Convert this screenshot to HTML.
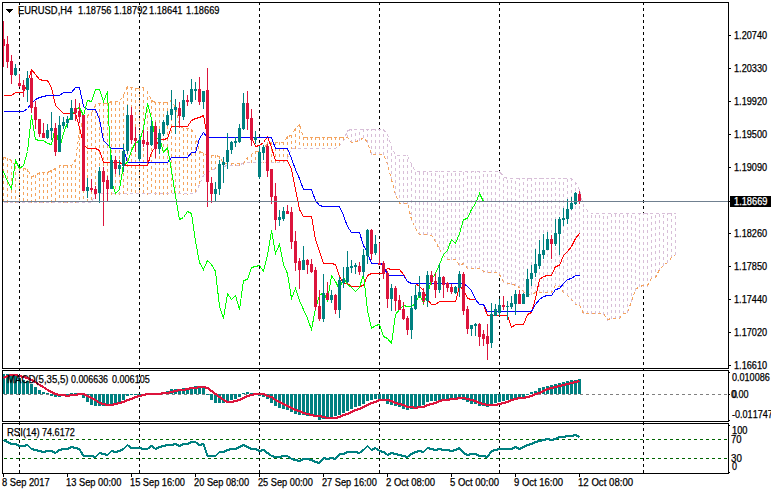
<!DOCTYPE html>
<html><head><meta charset="utf-8"><title>EURUSD,H4</title>
<style>
html,body{margin:0;padding:0;background:#fff;}
#c{position:relative;width:771px;height:494px;overflow:hidden;background:#fff;font-family:"Liberation Sans",sans-serif;}
#c svg{position:absolute;left:0;top:0;}
.t{position:absolute;font-size:10.0px;line-height:15px;height:15px;white-space:pre;font-kerning:none;transform-origin:0 0;-webkit-text-stroke:0.25px currentColor;}
</style></head><body>
<div id="c">
<svg width="771" height="494" viewBox="0 0 771 494" shape-rendering="crispEdges">
<rect x="0" y="0" width="771" height="494" fill="#fff"/>
<line x1="19.5" y1="2" x2="19.5" y2="474" stroke="#000" stroke-dasharray="3 3" stroke-dashoffset="0"/>
<line x1="139.5" y1="2" x2="139.5" y2="474" stroke="#000" stroke-dasharray="3 3" stroke-dashoffset="0"/>
<line x1="259.5" y1="2" x2="259.5" y2="474" stroke="#000" stroke-dasharray="3 3" stroke-dashoffset="0"/>
<line x1="379.5" y1="2" x2="379.5" y2="474" stroke="#000" stroke-dasharray="3 3" stroke-dashoffset="0"/>
<line x1="499.5" y1="2" x2="499.5" y2="474" stroke="#000" stroke-dasharray="3 3" stroke-dashoffset="0"/>
<line x1="643.5" y1="2" x2="643.5" y2="474" stroke="#000" stroke-dasharray="3 3" stroke-dashoffset="0"/>
<line x1="3.5" y1="157" x2="3.5" y2="203" stroke="#f4a460" stroke-dasharray="3 3" stroke-dashoffset="0"/>
<line x1="7.5" y1="158" x2="7.5" y2="203" stroke="#f4a460" stroke-dasharray="3 3" stroke-dashoffset="0"/>
<line x1="11.5" y1="160" x2="11.5" y2="203" stroke="#f4a460" stroke-dasharray="3 3" stroke-dashoffset="0"/>
<line x1="15.5" y1="166" x2="15.5" y2="203" stroke="#f4a460" stroke-dasharray="3 3" stroke-dashoffset="0"/>
<line x1="19.5" y1="168" x2="19.5" y2="203" stroke="#f4a460" stroke-dasharray="3 3" stroke-dashoffset="0"/>
<line x1="23.5" y1="168" x2="23.5" y2="203" stroke="#f4a460" stroke-dasharray="3 3" stroke-dashoffset="0"/>
<line x1="27.5" y1="169" x2="27.5" y2="203" stroke="#f4a460" stroke-dasharray="3 3" stroke-dashoffset="0"/>
<line x1="31.5" y1="176" x2="31.5" y2="203" stroke="#f4a460" stroke-dasharray="3 3" stroke-dashoffset="0"/>
<line x1="35.5" y1="175" x2="35.5" y2="203" stroke="#f4a460" stroke-dasharray="3 3" stroke-dashoffset="0"/>
<line x1="39.5" y1="172" x2="39.5" y2="203" stroke="#f4a460" stroke-dasharray="3 3" stroke-dashoffset="0"/>
<line x1="43.5" y1="172" x2="43.5" y2="203" stroke="#f4a460" stroke-dasharray="3 3" stroke-dashoffset="0"/>
<line x1="47.5" y1="172" x2="47.5" y2="203" stroke="#f4a460" stroke-dasharray="3 3" stroke-dashoffset="0"/>
<line x1="51.5" y1="170" x2="51.5" y2="203" stroke="#f4a460" stroke-dasharray="3 3" stroke-dashoffset="0"/>
<line x1="55.5" y1="168" x2="55.5" y2="203" stroke="#f4a460" stroke-dasharray="3 3" stroke-dashoffset="0"/>
<line x1="59.5" y1="165" x2="59.5" y2="203" stroke="#f4a460" stroke-dasharray="3 3" stroke-dashoffset="0"/>
<line x1="63.5" y1="165" x2="63.5" y2="203" stroke="#f4a460" stroke-dasharray="3 3" stroke-dashoffset="0"/>
<line x1="67.5" y1="165" x2="67.5" y2="203" stroke="#f4a460" stroke-dasharray="3 3" stroke-dashoffset="0"/>
<line x1="71.5" y1="165" x2="71.5" y2="203" stroke="#f4a460" stroke-dasharray="3 3" stroke-dashoffset="0"/>
<line x1="75.5" y1="159" x2="75.5" y2="203" stroke="#f4a460" stroke-dasharray="3 3" stroke-dashoffset="0"/>
<line x1="79.5" y1="131" x2="79.5" y2="203" stroke="#f4a460" stroke-dasharray="3 3" stroke-dashoffset="0"/>
<line x1="83.5" y1="118" x2="83.5" y2="203" stroke="#f4a460" stroke-dasharray="3 3" stroke-dashoffset="0"/>
<line x1="87.5" y1="115" x2="87.5" y2="203" stroke="#f4a460" stroke-dasharray="3 3" stroke-dashoffset="0"/>
<line x1="91.5" y1="113" x2="91.5" y2="203" stroke="#f4a460" stroke-dasharray="3 3" stroke-dashoffset="0"/>
<line x1="95.5" y1="104" x2="95.5" y2="195" stroke="#f4a460" stroke-dasharray="3 3" stroke-dashoffset="0"/>
<line x1="99.5" y1="103" x2="99.5" y2="195" stroke="#f4a460" stroke-dasharray="3 3" stroke-dashoffset="0"/>
<line x1="103.5" y1="103" x2="103.5" y2="195" stroke="#f4a460" stroke-dasharray="3 3" stroke-dashoffset="0"/>
<line x1="107.5" y1="103" x2="107.5" y2="195" stroke="#f4a460" stroke-dasharray="3 3" stroke-dashoffset="0"/>
<line x1="111.5" y1="102" x2="111.5" y2="195" stroke="#f4a460" stroke-dasharray="3 3" stroke-dashoffset="0"/>
<line x1="115.5" y1="102" x2="115.5" y2="195" stroke="#f4a460" stroke-dasharray="3 3" stroke-dashoffset="0"/>
<line x1="119.5" y1="102" x2="119.5" y2="195" stroke="#f4a460" stroke-dasharray="3 3" stroke-dashoffset="0"/>
<line x1="123.5" y1="95" x2="123.5" y2="195" stroke="#f4a460" stroke-dasharray="3 3" stroke-dashoffset="0"/>
<line x1="127.5" y1="86" x2="127.5" y2="195" stroke="#f4a460" stroke-dasharray="3 3" stroke-dashoffset="0"/>
<line x1="131.5" y1="87" x2="131.5" y2="195" stroke="#f4a460" stroke-dasharray="3 3" stroke-dashoffset="0"/>
<line x1="135.5" y1="88" x2="135.5" y2="195" stroke="#f4a460" stroke-dasharray="3 3" stroke-dashoffset="0"/>
<line x1="139.5" y1="88" x2="139.5" y2="195" stroke="#f4a460" stroke-dasharray="3 3" stroke-dashoffset="0"/>
<line x1="143.5" y1="88" x2="143.5" y2="195" stroke="#f4a460" stroke-dasharray="3 3" stroke-dashoffset="0"/>
<line x1="147.5" y1="91" x2="147.5" y2="195" stroke="#f4a460" stroke-dasharray="3 3" stroke-dashoffset="0"/>
<line x1="151.5" y1="100" x2="151.5" y2="195" stroke="#f4a460" stroke-dasharray="3 3" stroke-dashoffset="0"/>
<line x1="155.5" y1="102" x2="155.5" y2="195" stroke="#f4a460" stroke-dasharray="3 3" stroke-dashoffset="0"/>
<line x1="159.5" y1="102" x2="159.5" y2="195" stroke="#f4a460" stroke-dasharray="3 3" stroke-dashoffset="0"/>
<line x1="163.5" y1="102" x2="163.5" y2="195" stroke="#f4a460" stroke-dasharray="3 3" stroke-dashoffset="0"/>
<line x1="167.5" y1="102" x2="167.5" y2="195" stroke="#f4a460" stroke-dasharray="3 3" stroke-dashoffset="0"/>
<line x1="171.5" y1="100" x2="171.5" y2="195" stroke="#f4a460" stroke-dasharray="3 3" stroke-dashoffset="0"/>
<line x1="175.5" y1="107" x2="175.5" y2="195" stroke="#f4a460" stroke-dasharray="3 3" stroke-dashoffset="0"/>
<line x1="179.5" y1="125" x2="179.5" y2="195" stroke="#f4a460" stroke-dasharray="3 3" stroke-dashoffset="0"/>
<line x1="183.5" y1="128" x2="183.5" y2="195" stroke="#f4a460" stroke-dasharray="3 3" stroke-dashoffset="0"/>
<line x1="187.5" y1="128" x2="187.5" y2="195" stroke="#f4a460" stroke-dasharray="3 3" stroke-dashoffset="0"/>
<line x1="191.5" y1="129" x2="191.5" y2="195" stroke="#f4a460" stroke-dasharray="3 3" stroke-dashoffset="0"/>
<line x1="195.5" y1="135" x2="195.5" y2="195" stroke="#f4a460" stroke-dasharray="3 3" stroke-dashoffset="0"/>
<line x1="199.5" y1="151" x2="199.5" y2="185" stroke="#f4a460" stroke-dasharray="3 3" stroke-dashoffset="0"/>
<line x1="203.5" y1="153" x2="203.5" y2="177" stroke="#f4a460" stroke-dasharray="3 3" stroke-dashoffset="0"/>
<line x1="207.5" y1="155" x2="207.5" y2="173" stroke="#f4a460" stroke-dasharray="3 3" stroke-dashoffset="0"/>
<line x1="211.5" y1="155" x2="211.5" y2="171" stroke="#f4a460" stroke-dasharray="3 3" stroke-dashoffset="0"/>
<line x1="215.5" y1="155" x2="215.5" y2="169" stroke="#f4a460" stroke-dasharray="3 3" stroke-dashoffset="0"/>
<line x1="219.5" y1="156" x2="219.5" y2="168" stroke="#f4a460" stroke-dasharray="3 3" stroke-dashoffset="0"/>
<line x1="223.5" y1="164" x2="223.5" y2="167" stroke="#f4a460" stroke-dasharray="3 3" stroke-dashoffset="0"/>
<line x1="227.5" y1="164" x2="227.5" y2="166" stroke="#f4a460" stroke-dasharray="3 3" stroke-dashoffset="0"/>
<line x1="231.5" y1="164" x2="231.5" y2="166" stroke="#f4a460" stroke-dasharray="3 3" stroke-dashoffset="0"/>
<line x1="235.5" y1="164" x2="235.5" y2="166" stroke="#f4a460" stroke-dasharray="3 3" stroke-dashoffset="0"/>
<line x1="239.5" y1="164" x2="239.5" y2="166" stroke="#f4a460" stroke-dasharray="3 3" stroke-dashoffset="0"/>
<line x1="243.5" y1="162" x2="243.5" y2="165" stroke="#d8bfd8" stroke-dasharray="3 3" stroke-dashoffset="0"/>
<line x1="247.5" y1="157" x2="247.5" y2="163" stroke="#f4a460" stroke-dasharray="3 3" stroke-dashoffset="0"/>
<line x1="251.5" y1="154" x2="251.5" y2="163" stroke="#f4a460" stroke-dasharray="3 3" stroke-dashoffset="0"/>
<line x1="255.5" y1="151" x2="255.5" y2="163" stroke="#f4a460" stroke-dasharray="3 3" stroke-dashoffset="0"/>
<line x1="259.5" y1="151" x2="259.5" y2="163" stroke="#f4a460" stroke-dasharray="3 3" stroke-dashoffset="0"/>
<line x1="263.5" y1="150" x2="263.5" y2="163" stroke="#f4a460" stroke-dasharray="3 3" stroke-dashoffset="0"/>
<line x1="267.5" y1="142" x2="267.5" y2="163" stroke="#f4a460" stroke-dasharray="3 3" stroke-dashoffset="0"/>
<line x1="271.5" y1="142" x2="271.5" y2="163" stroke="#f4a460" stroke-dasharray="3 3" stroke-dashoffset="0"/>
<line x1="275.5" y1="142" x2="275.5" y2="163" stroke="#f4a460" stroke-dasharray="3 3" stroke-dashoffset="0"/>
<line x1="279.5" y1="142" x2="279.5" y2="163" stroke="#f4a460" stroke-dasharray="3 3" stroke-dashoffset="0"/>
<line x1="283.5" y1="142" x2="283.5" y2="163" stroke="#f4a460" stroke-dasharray="3 3" stroke-dashoffset="0"/>
<line x1="287.5" y1="136" x2="287.5" y2="159" stroke="#f4a460" stroke-dasharray="3 3" stroke-dashoffset="0"/>
<line x1="291.5" y1="135" x2="291.5" y2="149" stroke="#f4a460" stroke-dasharray="3 3" stroke-dashoffset="0"/>
<line x1="295.5" y1="128" x2="295.5" y2="149" stroke="#f4a460" stroke-dasharray="3 3" stroke-dashoffset="0"/>
<line x1="299.5" y1="124" x2="299.5" y2="149" stroke="#f4a460" stroke-dasharray="3 3" stroke-dashoffset="0"/>
<line x1="303.5" y1="137" x2="303.5" y2="149" stroke="#f4a460" stroke-dasharray="3 3" stroke-dashoffset="0"/>
<line x1="307.5" y1="137" x2="307.5" y2="149" stroke="#f4a460" stroke-dasharray="3 3" stroke-dashoffset="0"/>
<line x1="311.5" y1="137" x2="311.5" y2="149" stroke="#f4a460" stroke-dasharray="3 3" stroke-dashoffset="0"/>
<line x1="315.5" y1="137" x2="315.5" y2="149" stroke="#f4a460" stroke-dasharray="3 3" stroke-dashoffset="0"/>
<line x1="319.5" y1="137" x2="319.5" y2="149" stroke="#f4a460" stroke-dasharray="3 3" stroke-dashoffset="0"/>
<line x1="323.5" y1="137" x2="323.5" y2="149" stroke="#f4a460" stroke-dasharray="3 3" stroke-dashoffset="0"/>
<line x1="327.5" y1="137" x2="327.5" y2="149" stroke="#f4a460" stroke-dasharray="3 3" stroke-dashoffset="0"/>
<line x1="331.5" y1="137" x2="331.5" y2="149" stroke="#f4a460" stroke-dasharray="3 3" stroke-dashoffset="0"/>
<line x1="335.5" y1="137" x2="335.5" y2="149" stroke="#f4a460" stroke-dasharray="3 3" stroke-dashoffset="0"/>
<line x1="339.5" y1="137" x2="339.5" y2="146" stroke="#f4a460" stroke-dasharray="3 3" stroke-dashoffset="0"/>
<line x1="343.5" y1="137" x2="343.5" y2="142" stroke="#f4a460" stroke-dasharray="3 3" stroke-dashoffset="0"/>
<line x1="347.5" y1="130" x2="347.5" y2="138" stroke="#d8bfd8" stroke-dasharray="3 3" stroke-dashoffset="1"/>
<line x1="351.5" y1="129" x2="351.5" y2="143" stroke="#d8bfd8" stroke-dasharray="3 3" stroke-dashoffset="1"/>
<line x1="355.5" y1="129" x2="355.5" y2="142" stroke="#d8bfd8" stroke-dasharray="3 3" stroke-dashoffset="2"/>
<line x1="359.5" y1="129" x2="359.5" y2="141" stroke="#d8bfd8" stroke-dasharray="3 3" stroke-dashoffset="3"/>
<line x1="363.5" y1="129" x2="363.5" y2="138" stroke="#d8bfd8" stroke-dasharray="3 3" stroke-dashoffset="0"/>
<line x1="367.5" y1="129" x2="367.5" y2="143" stroke="#d8bfd8" stroke-dasharray="3 3" stroke-dashoffset="1"/>
<line x1="371.5" y1="129" x2="371.5" y2="155" stroke="#d8bfd8" stroke-dasharray="3 3" stroke-dashoffset="1"/>
<line x1="375.5" y1="129" x2="375.5" y2="155" stroke="#d8bfd8" stroke-dasharray="3 3" stroke-dashoffset="1"/>
<line x1="379.5" y1="129" x2="379.5" y2="155" stroke="#d8bfd8" stroke-dasharray="3 3" stroke-dashoffset="1"/>
<line x1="383.5" y1="129" x2="383.5" y2="155" stroke="#d8bfd8" stroke-dasharray="3 3" stroke-dashoffset="1"/>
<line x1="387.5" y1="134" x2="387.5" y2="165" stroke="#d8bfd8" stroke-dasharray="3 3" stroke-dashoffset="2"/>
<line x1="391.5" y1="146" x2="391.5" y2="180" stroke="#d8bfd8" stroke-dasharray="3 3" stroke-dashoffset="5"/>
<line x1="395.5" y1="155" x2="395.5" y2="195" stroke="#d8bfd8" stroke-dasharray="3 3" stroke-dashoffset="5"/>
<line x1="399.5" y1="155" x2="399.5" y2="204" stroke="#d8bfd8" stroke-dasharray="3 3" stroke-dashoffset="2"/>
<line x1="403.5" y1="155" x2="403.5" y2="204" stroke="#d8bfd8" stroke-dasharray="3 3" stroke-dashoffset="2"/>
<line x1="407.5" y1="155" x2="407.5" y2="204" stroke="#d8bfd8" stroke-dasharray="3 3" stroke-dashoffset="2"/>
<line x1="411.5" y1="164" x2="411.5" y2="221" stroke="#d8bfd8" stroke-dasharray="3 3" stroke-dashoffset="0"/>
<line x1="415.5" y1="171" x2="415.5" y2="229" stroke="#d8bfd8" stroke-dasharray="3 3" stroke-dashoffset="5"/>
<line x1="419.5" y1="171" x2="419.5" y2="235" stroke="#d8bfd8" stroke-dasharray="3 3" stroke-dashoffset="5"/>
<line x1="423.5" y1="171" x2="423.5" y2="235" stroke="#d8bfd8" stroke-dasharray="3 3" stroke-dashoffset="5"/>
<line x1="427.5" y1="171" x2="427.5" y2="235" stroke="#d8bfd8" stroke-dasharray="3 3" stroke-dashoffset="5"/>
<line x1="431.5" y1="171" x2="431.5" y2="236" stroke="#d8bfd8" stroke-dasharray="3 3" stroke-dashoffset="4"/>
<line x1="435.5" y1="171" x2="435.5" y2="242" stroke="#d8bfd8" stroke-dasharray="3 3" stroke-dashoffset="4"/>
<line x1="439.5" y1="171" x2="439.5" y2="250" stroke="#d8bfd8" stroke-dasharray="3 3" stroke-dashoffset="2"/>
<line x1="443.5" y1="171" x2="443.5" y2="256" stroke="#d8bfd8" stroke-dasharray="3 3" stroke-dashoffset="2"/>
<line x1="447.5" y1="171" x2="447.5" y2="260" stroke="#d8bfd8" stroke-dasharray="3 3" stroke-dashoffset="4"/>
<line x1="451.5" y1="171" x2="451.5" y2="260" stroke="#d8bfd8" stroke-dasharray="3 3" stroke-dashoffset="4"/>
<line x1="455.5" y1="171" x2="455.5" y2="260" stroke="#d8bfd8" stroke-dasharray="3 3" stroke-dashoffset="4"/>
<line x1="459.5" y1="171" x2="459.5" y2="266" stroke="#d8bfd8" stroke-dasharray="3 3" stroke-dashoffset="4"/>
<line x1="463.5" y1="171" x2="463.5" y2="265" stroke="#d8bfd8" stroke-dasharray="3 3" stroke-dashoffset="5"/>
<line x1="467.5" y1="171" x2="467.5" y2="269" stroke="#d8bfd8" stroke-dasharray="3 3" stroke-dashoffset="1"/>
<line x1="471.5" y1="171" x2="471.5" y2="269" stroke="#d8bfd8" stroke-dasharray="3 3" stroke-dashoffset="1"/>
<line x1="475.5" y1="171" x2="475.5" y2="269" stroke="#d8bfd8" stroke-dasharray="3 3" stroke-dashoffset="1"/>
<line x1="479.5" y1="171" x2="479.5" y2="269" stroke="#d8bfd8" stroke-dasharray="3 3" stroke-dashoffset="1"/>
<line x1="483.5" y1="171" x2="483.5" y2="273" stroke="#d8bfd8" stroke-dasharray="3 3" stroke-dashoffset="3"/>
<line x1="487.5" y1="171" x2="487.5" y2="273" stroke="#d8bfd8" stroke-dasharray="3 3" stroke-dashoffset="3"/>
<line x1="491.5" y1="171" x2="491.5" y2="273" stroke="#d8bfd8" stroke-dasharray="3 3" stroke-dashoffset="3"/>
<line x1="495.5" y1="171" x2="495.5" y2="273" stroke="#d8bfd8" stroke-dasharray="3 3" stroke-dashoffset="3"/>
<line x1="499.5" y1="171" x2="499.5" y2="275" stroke="#d8bfd8" stroke-dasharray="3 3" stroke-dashoffset="1"/>
<line x1="503.5" y1="176" x2="503.5" y2="283" stroke="#d8bfd8" stroke-dasharray="3 3" stroke-dashoffset="4"/>
<line x1="507.5" y1="178" x2="507.5" y2="285" stroke="#d8bfd8" stroke-dasharray="3 3" stroke-dashoffset="4"/>
<line x1="511.5" y1="178" x2="511.5" y2="285" stroke="#d8bfd8" stroke-dasharray="3 3" stroke-dashoffset="4"/>
<line x1="515.5" y1="178" x2="515.5" y2="286" stroke="#d8bfd8" stroke-dasharray="3 3" stroke-dashoffset="3"/>
<line x1="519.5" y1="178" x2="519.5" y2="288" stroke="#d8bfd8" stroke-dasharray="3 3" stroke-dashoffset="1"/>
<line x1="523.5" y1="178" x2="523.5" y2="293" stroke="#d8bfd8" stroke-dasharray="3 3" stroke-dashoffset="2"/>
<line x1="527.5" y1="178" x2="527.5" y2="295" stroke="#d8bfd8" stroke-dasharray="3 3" stroke-dashoffset="0"/>
<line x1="531.5" y1="178" x2="531.5" y2="295" stroke="#d8bfd8" stroke-dasharray="3 3" stroke-dashoffset="0"/>
<line x1="535.5" y1="178" x2="535.5" y2="293" stroke="#d8bfd8" stroke-dasharray="3 3" stroke-dashoffset="2"/>
<line x1="539.5" y1="178" x2="539.5" y2="293" stroke="#d8bfd8" stroke-dasharray="3 3" stroke-dashoffset="2"/>
<line x1="543.5" y1="178" x2="543.5" y2="293" stroke="#d8bfd8" stroke-dasharray="3 3" stroke-dashoffset="2"/>
<line x1="547.5" y1="178" x2="547.5" y2="293" stroke="#d8bfd8" stroke-dasharray="3 3" stroke-dashoffset="2"/>
<line x1="551.5" y1="178" x2="551.5" y2="293" stroke="#d8bfd8" stroke-dasharray="3 3" stroke-dashoffset="2"/>
<line x1="555.5" y1="178" x2="555.5" y2="286" stroke="#d8bfd8" stroke-dasharray="3 3" stroke-dashoffset="3"/>
<line x1="559.5" y1="178" x2="559.5" y2="287" stroke="#d8bfd8" stroke-dasharray="3 3" stroke-dashoffset="2"/>
<line x1="563.5" y1="178" x2="563.5" y2="293" stroke="#d8bfd8" stroke-dasharray="3 3" stroke-dashoffset="2"/>
<line x1="567.5" y1="178" x2="567.5" y2="296" stroke="#d8bfd8" stroke-dasharray="3 3" stroke-dashoffset="5"/>
<line x1="571.5" y1="178" x2="571.5" y2="301" stroke="#d8bfd8" stroke-dasharray="3 3" stroke-dashoffset="0"/>
<line x1="575.5" y1="182" x2="575.5" y2="305" stroke="#d8bfd8" stroke-dasharray="3 3" stroke-dashoffset="0"/>
<line x1="579.5" y1="189" x2="579.5" y2="305" stroke="#d8bfd8" stroke-dasharray="3 3" stroke-dashoffset="1"/>
<line x1="583.5" y1="206" x2="583.5" y2="314" stroke="#d8bfd8" stroke-dasharray="3 3" stroke-dashoffset="3"/>
<line x1="587.5" y1="210" x2="587.5" y2="314" stroke="#d8bfd8" stroke-dasharray="3 3" stroke-dashoffset="1"/>
<line x1="591.5" y1="213" x2="591.5" y2="314" stroke="#d8bfd8" stroke-dasharray="3 3" stroke-dashoffset="4"/>
<line x1="595.5" y1="213" x2="595.5" y2="314" stroke="#d8bfd8" stroke-dasharray="3 3" stroke-dashoffset="4"/>
<line x1="599.5" y1="213" x2="599.5" y2="314" stroke="#d8bfd8" stroke-dasharray="3 3" stroke-dashoffset="4"/>
<line x1="603.5" y1="213" x2="603.5" y2="315" stroke="#d8bfd8" stroke-dasharray="3 3" stroke-dashoffset="3"/>
<line x1="607.5" y1="213" x2="607.5" y2="321" stroke="#d8bfd8" stroke-dasharray="3 3" stroke-dashoffset="3"/>
<line x1="611.5" y1="213" x2="611.5" y2="319" stroke="#d8bfd8" stroke-dasharray="3 3" stroke-dashoffset="5"/>
<line x1="615.5" y1="213" x2="615.5" y2="319" stroke="#d8bfd8" stroke-dasharray="3 3" stroke-dashoffset="5"/>
<line x1="619.5" y1="213" x2="619.5" y2="319" stroke="#d8bfd8" stroke-dasharray="3 3" stroke-dashoffset="5"/>
<line x1="623.5" y1="213" x2="623.5" y2="314" stroke="#d8bfd8" stroke-dasharray="3 3" stroke-dashoffset="4"/>
<line x1="627.5" y1="213" x2="627.5" y2="313" stroke="#d8bfd8" stroke-dasharray="3 3" stroke-dashoffset="5"/>
<line x1="631.5" y1="213" x2="631.5" y2="302" stroke="#d8bfd8" stroke-dasharray="3 3" stroke-dashoffset="4"/>
<line x1="635.5" y1="213" x2="635.5" y2="291" stroke="#d8bfd8" stroke-dasharray="3 3" stroke-dashoffset="3"/>
<line x1="639.5" y1="213" x2="639.5" y2="287" stroke="#d8bfd8" stroke-dasharray="3 3" stroke-dashoffset="1"/>
<line x1="643.5" y1="213" x2="643.5" y2="287" stroke="#d8bfd8" stroke-dasharray="3 3" stroke-dashoffset="1"/>
<line x1="647.5" y1="213" x2="647.5" y2="287" stroke="#d8bfd8" stroke-dasharray="3 3" stroke-dashoffset="1"/>
<line x1="651.5" y1="213" x2="651.5" y2="279" stroke="#d8bfd8" stroke-dasharray="3 3" stroke-dashoffset="3"/>
<line x1="655.5" y1="213" x2="655.5" y2="278" stroke="#d8bfd8" stroke-dasharray="3 3" stroke-dashoffset="4"/>
<line x1="659.5" y1="213" x2="659.5" y2="271" stroke="#d8bfd8" stroke-dasharray="3 3" stroke-dashoffset="5"/>
<line x1="663.5" y1="213" x2="663.5" y2="266" stroke="#d8bfd8" stroke-dasharray="3 3" stroke-dashoffset="4"/>
<line x1="667.5" y1="213" x2="667.5" y2="263" stroke="#d8bfd8" stroke-dasharray="3 3" stroke-dashoffset="1"/>
<line x1="671.5" y1="213" x2="671.5" y2="258" stroke="#d8bfd8" stroke-dasharray="3 3" stroke-dashoffset="0"/>
<line x1="675.5" y1="213" x2="675.5" y2="255" stroke="#d8bfd8" stroke-dasharray="3 3" stroke-dashoffset="3"/>
<polyline points="3.5,157.5 7.5,158.5 11.5,160.5 15.5,165.5 19.5,168.5 23.5,168.5 27.5,169.5 31.5,176.5 35.5,175.5 39.5,172.5 43.5,172.5 47.5,172.5 51.5,170.5 55.5,168.5 59.5,165.5 63.5,165.5 67.5,165.5 71.5,165.5 75.5,159.5 79.5,131.5 83.5,118.5 87.5,115.5 91.5,113.5 95.5,104.5 99.5,103.5 103.5,103.5 107.5,103.5 111.5,101.5 115.5,101.5 119.5,101.5 123.5,95.5 127.5,86.5 131.5,87.5 135.5,88.5 139.5,88.5 143.5,87.5 147.5,91.5 151.5,100.5 155.5,102.5 159.5,102.5 163.5,102.5 167.5,102.5 171.5,100.5 175.5,107.5 179.5,125.5 183.5,128.5 187.5,128.5 191.5,129.5 195.5,135.5 199.5,151.5 203.5,153.5 207.5,155.5 211.5,155.5 215.5,155.5 219.5,156.5 223.5,163.5 227.5,163.5 231.5,163.5 235.5,163.5 239.5,163.5 243.5,163.5 247.5,157.5 251.5,154.5 255.5,151.5 259.5,151.5 263.5,150.5 267.5,142.5 271.5,142.5 275.5,142.5 279.5,142.5 283.5,142.5 287.5,136.5 291.5,135.5 295.5,128.5 299.5,124.5 303.5,137.5 307.5,137.5 311.5,137.5 315.5,137.5 319.5,137.5 323.5,137.5 327.5,137.5 331.5,137.5 335.5,137.5 339.5,137.5 343.5,137.5 347.5,137.5 351.5,142.5 355.5,141.5 359.5,140.5 363.5,137.5 367.5,142.5 371.5,154.5 375.5,154.5 379.5,154.5 383.5,154.5 387.5,164.5 391.5,179.5 395.5,194.5 399.5,203.5 403.5,203.5 407.5,203.5 411.5,219.5 415.5,228.5 419.5,234.5 423.5,234.5 427.5,234.5 431.5,235.5 435.5,241.5 439.5,249.5 443.5,255.5 447.5,259.5 451.5,259.5 455.5,259.5 459.5,265.5 463.5,263.5 467.5,268.5 471.5,268.5 475.5,268.5 479.5,268.5 483.5,271.5 487.5,272.5 491.5,272.5 495.5,272.5 499.5,274.5 503.5,281.5 507.5,283.5 511.5,283.5 515.5,285.5 519.5,287.5 523.5,291.5 527.5,294.5 531.5,294.5 535.5,292.5 539.5,292.5 543.5,292.5 547.5,292.5 551.5,292.5 555.5,285.5 559.5,286.5 563.5,292.5 567.5,295.5 571.5,299.5 575.5,304.5 579.5,304.5 583.5,313.5 587.5,313.5 591.5,313.5 595.5,313.5 599.5,313.5 603.5,313.5 607.5,319.5 611.5,318.5 615.5,318.5 619.5,318.5 623.5,313.5 627.5,312.5 631.5,301.5 635.5,289.5 639.5,286.5 643.5,285.5 647.5,285.5 651.5,278.5 655.5,277.5 659.5,269.5 663.5,265.5 667.5,262.5 671.5,257.5 675.5,254.5" fill="none" stroke="#f4a460" stroke-width="1" stroke-dasharray="3 3"/>
<polyline points="3.5,202.5 7.5,202.5 11.5,202.5 15.5,202.5 19.5,202.5 23.5,202.5 27.5,202.5 31.5,202.5 35.5,202.5 39.5,202.5 43.5,202.5 47.5,202.5 51.5,202.5 55.5,202.5 59.5,202.5 63.5,202.5 67.5,202.5 71.5,202.5 75.5,202.5 79.5,202.5 83.5,202.5 87.5,202.5 91.5,202.5 95.5,193.5 99.5,193.5 103.5,193.5 107.5,193.5 111.5,193.5 115.5,193.5 119.5,193.5 123.5,193.5 127.5,193.5 131.5,193.5 135.5,193.5 139.5,193.5 143.5,193.5 147.5,193.5 151.5,193.5 155.5,193.5 159.5,193.5 163.5,193.5 167.5,193.5 171.5,193.5 175.5,193.5 179.5,193.5 183.5,193.5 187.5,193.5 191.5,193.5 195.5,193.5 199.5,184.5 203.5,175.5 207.5,172.5 211.5,170.5 215.5,168.5 219.5,167.5 223.5,166.5 227.5,165.5 231.5,165.5 235.5,165.5 239.5,165.5 243.5,162.5 247.5,162.5 251.5,162.5 255.5,162.5 259.5,162.5 263.5,162.5 267.5,162.5 271.5,162.5 275.5,162.5 279.5,162.5 283.5,162.5 287.5,158.5 291.5,148.5 295.5,148.5 299.5,148.5 303.5,148.5 307.5,148.5 311.5,148.5 315.5,148.5 319.5,148.5 323.5,148.5 327.5,148.5 331.5,148.5 335.5,148.5 339.5,145.5 343.5,141.5 347.5,130.5 351.5,129.5 355.5,129.5 359.5,129.5 363.5,129.5 367.5,129.5 371.5,129.5 375.5,129.5 379.5,129.5 383.5,129.5 387.5,134.5 391.5,146.5 395.5,155.5 399.5,155.5 403.5,155.5 407.5,155.5 411.5,164.5 415.5,171.5 419.5,171.5 423.5,171.5 427.5,171.5 431.5,171.5 435.5,171.5 439.5,171.5 443.5,171.5 447.5,171.5 451.5,171.5 455.5,171.5 459.5,171.5 463.5,171.5 467.5,171.5 471.5,171.5 475.5,171.5 479.5,171.5 483.5,171.5 487.5,171.5 491.5,171.5 495.5,171.5 499.5,171.5 503.5,176.5 507.5,178.5 511.5,178.5 515.5,178.5 519.5,178.5 523.5,178.5 527.5,178.5 531.5,178.5 535.5,178.5 539.5,178.5 543.5,178.5 547.5,178.5 551.5,178.5 555.5,178.5 559.5,178.5 563.5,178.5 567.5,178.5 571.5,178.5 575.5,182.5 579.5,189.5 583.5,206.5 587.5,210.5 591.5,213.5 595.5,213.5 599.5,213.5 603.5,213.5 607.5,213.5 611.5,213.5 615.5,213.5 619.5,213.5 623.5,213.5 627.5,213.5 631.5,213.5 635.5,213.5 639.5,213.5 643.5,213.5 647.5,213.5 651.5,213.5 655.5,213.5 659.5,213.5 663.5,213.5 667.5,213.5 671.5,213.5 675.5,213.5" fill="none" stroke="#d8bfd8" stroke-width="1" stroke-dasharray="3 3"/>
<polyline points="3.5,95.5 7.5,95.5 11.5,95.5 15.5,92.5 19.5,92.5 23.5,92.5 27.5,83.5 31.5,69.5 35.5,74.5 39.5,79.5 43.5,80.5 47.5,80.5 51.5,87.5 55.5,105.5 59.5,109.5 63.5,113.5 67.5,113.5 71.5,113.5 75.5,113.5 79.5,127.5 83.5,144.5 87.5,148.5 91.5,148.5 95.5,148.5 99.5,150.5 103.5,162.5 107.5,162.5 111.5,162.5 115.5,162.5 119.5,162.5 123.5,164.5 127.5,165.5 131.5,165.5 135.5,165.5 139.5,165.5 143.5,165.5 147.5,165.5 151.5,152.5 155.5,146.5 159.5,139.5 163.5,139.5 167.5,138.5 171.5,126.5 175.5,126.5 179.5,126.5 183.5,126.5 187.5,126.5 191.5,120.5 195.5,118.5 199.5,117.5 203.5,115.5 207.5,137.5 211.5,137.5 215.5,137.5 219.5,137.5 223.5,137.5 227.5,137.5 231.5,137.5 235.5,137.5 239.5,137.5 243.5,137.5 247.5,137.5 251.5,137.5 255.5,146.5 259.5,145.5 263.5,142.5 267.5,136.5 271.5,147.5 275.5,160.5 279.5,160.5 283.5,160.5 287.5,160.5 291.5,169.5 295.5,189.5 299.5,209.5 303.5,216.5 307.5,216.5 311.5,216.5 315.5,239.5 319.5,251.5 323.5,263.5 327.5,263.5 331.5,263.5 335.5,264.5 339.5,276.5 343.5,283.5 347.5,283.5 351.5,286.5 355.5,286.5 359.5,286.5 363.5,285.5 367.5,275.5 371.5,273.5 375.5,273.5 379.5,273.5 383.5,273.5 387.5,268.5 391.5,269.5 395.5,269.5 399.5,269.5 403.5,274.5 407.5,281.5 411.5,283.5 415.5,283.5 419.5,286.5 423.5,290.5 427.5,299.5 431.5,304.5 435.5,304.5 439.5,301.5 443.5,301.5 447.5,301.5 451.5,301.5 455.5,301.5 459.5,286.5 463.5,289.5 467.5,298.5 471.5,299.5 475.5,299.5 479.5,304.5 483.5,304.5 487.5,315.5 491.5,315.5 495.5,315.5 499.5,315.5 503.5,315.5 507.5,315.5 511.5,327.5 515.5,324.5 519.5,324.5 523.5,324.5 527.5,314.5 531.5,312.5 535.5,298.5 539.5,279.5 543.5,276.5 547.5,275.5 551.5,275.5 555.5,266.5 559.5,265.5 563.5,255.5 567.5,251.5 571.5,246.5 575.5,238.5 579.5,233.5" fill="none" stroke="#ff0000" stroke-width="1"/>
<polyline points="3.5,111.5 7.5,111.5 11.5,111.5 15.5,111.5 19.5,111.5 23.5,111.5 27.5,108.5 31.5,103.5 35.5,99.5 39.5,97.5 43.5,96.5 47.5,95.5 51.5,95.5 55.5,95.5 59.5,95.5 63.5,92.5 67.5,92.5 71.5,92.5 75.5,87.5 79.5,87.5 83.5,106.5 87.5,109.5 91.5,109.5 95.5,109.5 99.5,119.5 103.5,140.5 107.5,144.5 111.5,148.5 115.5,148.5 119.5,148.5 123.5,148.5 127.5,162.5 131.5,162.5 135.5,162.5 139.5,162.5 143.5,162.5 147.5,162.5 151.5,162.5 155.5,162.5 159.5,162.5 163.5,162.5 167.5,162.5 171.5,157.5 175.5,157.5 179.5,157.5 183.5,157.5 187.5,157.5 191.5,152.5 195.5,152.5 199.5,138.5 203.5,132.5 207.5,137.5 211.5,137.5 215.5,137.5 219.5,137.5 223.5,137.5 227.5,137.5 231.5,137.5 235.5,137.5 239.5,137.5 243.5,137.5 247.5,137.5 251.5,137.5 255.5,137.5 259.5,137.5 263.5,137.5 267.5,137.5 271.5,137.5 275.5,148.5 279.5,148.5 283.5,148.5 287.5,148.5 291.5,158.5 295.5,169.5 299.5,178.5 303.5,189.5 307.5,189.5 311.5,189.5 315.5,200.5 319.5,205.5 323.5,206.5 327.5,206.5 331.5,206.5 335.5,206.5 339.5,206.5 343.5,215.5 347.5,226.5 351.5,232.5 355.5,232.5 359.5,232.5 363.5,245.5 367.5,252.5 371.5,263.5 375.5,263.5 379.5,263.5 383.5,264.5 387.5,275.5 391.5,275.5 395.5,275.5 399.5,275.5 403.5,275.5 407.5,281.5 411.5,283.5 415.5,283.5 419.5,283.5 423.5,283.5 427.5,283.5 431.5,283.5 435.5,283.5 439.5,283.5 443.5,283.5 447.5,283.5 451.5,283.5 455.5,283.5 459.5,283.5 463.5,283.5 467.5,286.5 471.5,290.5 475.5,299.5 479.5,304.5 483.5,304.5 487.5,311.5 491.5,311.5 495.5,311.5 499.5,311.5 503.5,311.5 507.5,311.5 511.5,311.5 515.5,311.5 519.5,311.5 523.5,311.5 527.5,311.5 531.5,311.5 535.5,304.5 539.5,299.5 543.5,296.5 547.5,295.5 551.5,295.5 555.5,289.5 559.5,288.5 563.5,283.5 567.5,279.5 571.5,278.5 575.5,275.5 579.5,275.5" fill="none" stroke="#0000ff" stroke-width="1"/>
<polyline points="3.5,171.5 7.5,181.5 11.5,188.5 15.5,160.5 19.5,168.5 23.5,165.5 27.5,151.5 31.5,115.5 35.5,139.5 39.5,140.5 43.5,140.5 47.5,143.5 51.5,144.5 55.5,126.5 59.5,148.5 63.5,133.5 67.5,122.5 71.5,115.5 75.5,109.5 79.5,107.5 83.5,115.5 87.5,100.5 91.5,101.5 95.5,89.5 99.5,89.5 103.5,101.5 107.5,91.5 111.5,181.5 115.5,193.5 119.5,189.5 123.5,164.5 127.5,162.5 131.5,150.5 135.5,142.5 139.5,141.5 143.5,128.5 147.5,103.5 151.5,118.5 155.5,139.5 159.5,137.5 163.5,152.5 167.5,147.5 171.5,170.5 175.5,196.5 179.5,219.5 183.5,217.5 187.5,211.5 191.5,213.5 195.5,241.5 199.5,262.5 203.5,269.5 207.5,260.5 211.5,264.5 215.5,271.5 219.5,306.5 223.5,318.5 227.5,293.5 231.5,299.5 235.5,295.5 239.5,309.5 243.5,280.5 247.5,279.5 251.5,267.5 255.5,266.5 259.5,265.5 263.5,271.5 267.5,255.5 271.5,230.5 275.5,253.5 279.5,244.5 283.5,264.5 287.5,273.5 291.5,298.5 295.5,288.5 299.5,300.5 303.5,309.5 307.5,318.5 311.5,329.5 315.5,308.5 319.5,295.5 323.5,292.5 327.5,300.5 331.5,275.5 335.5,281.5 339.5,289.5 343.5,277.5 347.5,284.5 351.5,287.5 355.5,291.5 359.5,287.5 363.5,274.5 367.5,310.5 371.5,328.5 375.5,325.5 379.5,324.5 383.5,336.5 387.5,338.5 391.5,343.5 395.5,314.5 399.5,309.5 403.5,305.5 407.5,306.5 411.5,306.5 415.5,303.5 419.5,294.5 423.5,303.5 427.5,294.5 431.5,279.5 435.5,273.5 439.5,264.5 443.5,254.5 447.5,250.5 451.5,239.5 455.5,243.5 459.5,233.5 463.5,219.5 467.5,218.5 471.5,209.5 475.5,203.5 479.5,193.5 483.5,201.5" fill="none" stroke="#00ff00" stroke-width="1"/>
<line x1="3.5" y1="21" x2="3.5" y2="67" stroke="#dc143c"/>
<rect x="2" y="39" width="3" height="7" fill="#dc143c"/>
<line x1="7.5" y1="36" x2="7.5" y2="68" stroke="#dc143c"/>
<rect x="6" y="44" width="3" height="18" fill="#dc143c"/>
<line x1="11.5" y1="55" x2="11.5" y2="84" stroke="#dc143c"/>
<rect x="10" y="61" width="3" height="14" fill="#dc143c"/>
<line x1="15.5" y1="64" x2="15.5" y2="76" stroke="#008080"/>
<rect x="14" y="68" width="3" height="7" fill="#008080"/>
<line x1="19.5" y1="74" x2="19.5" y2="87" stroke="#dc143c"/>
<rect x="18" y="83" width="3" height="3" fill="#dc143c"/>
<line x1="23.5" y1="80" x2="23.5" y2="97" stroke="#dc143c"/>
<rect x="22" y="85" width="3" height="5" fill="#dc143c"/>
<line x1="27.5" y1="71" x2="27.5" y2="102" stroke="#008080"/>
<rect x="26" y="78" width="3" height="12" fill="#008080"/>
<line x1="31.5" y1="71" x2="31.5" y2="113" stroke="#dc143c"/>
<rect x="30" y="78" width="3" height="30" fill="#dc143c"/>
<line x1="35.5" y1="101" x2="35.5" y2="129" stroke="#dc143c"/>
<rect x="34" y="107" width="3" height="13" fill="#dc143c"/>
<line x1="39.5" y1="119" x2="39.5" y2="137" stroke="#dc143c"/>
<rect x="38" y="119" width="3" height="15" fill="#dc143c"/>
<line x1="43.5" y1="123" x2="43.5" y2="138" stroke="#dc143c"/>
<rect x="42" y="133" width="3" height="5" fill="#dc143c"/>
<line x1="47.5" y1="124" x2="47.5" y2="139" stroke="#008080"/>
<rect x="46" y="130" width="3" height="8" fill="#008080"/>
<line x1="51.5" y1="112" x2="51.5" y2="140" stroke="#008080"/>
<rect x="50" y="128" width="3" height="3" fill="#008080"/>
<line x1="55.5" y1="123" x2="55.5" y2="156" stroke="#dc143c"/>
<rect x="54" y="128" width="3" height="24" fill="#dc143c"/>
<line x1="59.5" y1="116" x2="59.5" y2="152" stroke="#008080"/>
<rect x="58" y="125" width="3" height="27" fill="#008080"/>
<line x1="63.5" y1="117" x2="63.5" y2="129" stroke="#008080"/>
<rect x="62" y="122" width="3" height="4" fill="#008080"/>
<line x1="67.5" y1="116" x2="67.5" y2="128" stroke="#008080"/>
<rect x="66" y="119" width="3" height="4" fill="#008080"/>
<line x1="71.5" y1="100" x2="71.5" y2="120" stroke="#008080"/>
<rect x="70" y="108" width="3" height="12" fill="#008080"/>
<line x1="75.5" y1="99" x2="75.5" y2="121" stroke="#dc143c"/>
<rect x="74" y="108" width="3" height="5" fill="#dc143c"/>
<line x1="79.5" y1="103" x2="79.5" y2="123" stroke="#dc143c"/>
<rect x="78" y="111" width="3" height="6" fill="#dc143c"/>
<line x1="83.5" y1="115" x2="83.5" y2="191" stroke="#dc143c"/>
<rect x="82" y="115" width="3" height="76" fill="#dc143c"/>
<line x1="87.5" y1="178" x2="87.5" y2="198" stroke="#008080"/>
<rect x="86" y="187" width="3" height="4" fill="#008080"/>
<line x1="91.5" y1="179" x2="91.5" y2="192" stroke="#dc143c"/>
<rect x="90" y="188" width="3" height="2" fill="#dc143c"/>
<line x1="95.5" y1="186" x2="95.5" y2="199" stroke="#dc143c"/>
<rect x="94" y="189" width="3" height="5" fill="#dc143c"/>
<line x1="99.5" y1="167" x2="99.5" y2="203" stroke="#008080"/>
<rect x="98" y="171" width="3" height="22" fill="#008080"/>
<line x1="103.5" y1="167" x2="103.5" y2="226" stroke="#dc143c"/>
<rect x="102" y="171" width="3" height="11" fill="#dc143c"/>
<line x1="107.5" y1="176" x2="107.5" y2="201" stroke="#dc143c"/>
<rect x="106" y="180" width="3" height="9" fill="#dc143c"/>
<line x1="111.5" y1="155" x2="111.5" y2="189" stroke="#008080"/>
<rect x="110" y="160" width="3" height="29" fill="#008080"/>
<line x1="115.5" y1="156" x2="115.5" y2="174" stroke="#dc143c"/>
<rect x="114" y="160" width="3" height="9" fill="#dc143c"/>
<line x1="119.5" y1="160" x2="119.5" y2="175" stroke="#008080"/>
<rect x="118" y="165" width="3" height="4" fill="#008080"/>
<line x1="123.5" y1="144" x2="123.5" y2="172" stroke="#008080"/>
<rect x="122" y="151" width="3" height="15" fill="#008080"/>
<line x1="127.5" y1="105" x2="127.5" y2="154" stroke="#008080"/>
<rect x="126" y="115" width="3" height="36" fill="#008080"/>
<line x1="131.5" y1="107" x2="131.5" y2="144" stroke="#dc143c"/>
<rect x="130" y="115" width="3" height="25" fill="#dc143c"/>
<line x1="135.5" y1="127" x2="135.5" y2="152" stroke="#dc143c"/>
<rect x="134" y="138" width="3" height="3" fill="#dc143c"/>
<line x1="139.5" y1="135" x2="139.5" y2="161" stroke="#008080"/>
<rect x="138" y="140" width="3" height="19" fill="#008080"/>
<line x1="143.5" y1="130" x2="143.5" y2="147" stroke="#dc143c"/>
<rect x="142" y="140" width="3" height="4" fill="#dc143c"/>
<line x1="147.5" y1="131" x2="147.5" y2="163" stroke="#dc143c"/>
<rect x="146" y="142" width="3" height="3" fill="#dc143c"/>
<line x1="151.5" y1="120" x2="151.5" y2="146" stroke="#008080"/>
<rect x="150" y="126" width="3" height="19" fill="#008080"/>
<line x1="155.5" y1="122" x2="155.5" y2="158" stroke="#dc143c"/>
<rect x="154" y="126" width="3" height="23" fill="#dc143c"/>
<line x1="159.5" y1="129" x2="159.5" y2="154" stroke="#008080"/>
<rect x="158" y="133" width="3" height="16" fill="#008080"/>
<line x1="163.5" y1="120" x2="163.5" y2="136" stroke="#008080"/>
<rect x="162" y="122" width="3" height="12" fill="#008080"/>
<line x1="167.5" y1="111" x2="167.5" y2="126" stroke="#008080"/>
<rect x="166" y="115" width="3" height="10" fill="#008080"/>
<line x1="171.5" y1="90" x2="171.5" y2="120" stroke="#008080"/>
<rect x="170" y="109" width="3" height="6" fill="#008080"/>
<line x1="175.5" y1="99" x2="175.5" y2="134" stroke="#008080"/>
<rect x="174" y="107" width="3" height="3" fill="#008080"/>
<line x1="179.5" y1="102" x2="179.5" y2="128" stroke="#dc143c"/>
<rect x="178" y="108" width="3" height="8" fill="#dc143c"/>
<line x1="183.5" y1="90" x2="183.5" y2="120" stroke="#008080"/>
<rect x="182" y="100" width="3" height="17" fill="#008080"/>
<line x1="187.5" y1="95" x2="187.5" y2="106" stroke="#dc143c"/>
<rect x="186" y="100" width="3" height="2" fill="#dc143c"/>
<line x1="191.5" y1="79" x2="191.5" y2="104" stroke="#008080"/>
<rect x="190" y="89" width="3" height="13" fill="#008080"/>
<line x1="195.5" y1="82" x2="195.5" y2="100" stroke="#008080"/>
<rect x="194" y="89" width="3" height="2" fill="#008080"/>
<line x1="199.5" y1="77" x2="199.5" y2="105" stroke="#dc143c"/>
<rect x="198" y="89" width="3" height="13" fill="#dc143c"/>
<line x1="203.5" y1="91" x2="203.5" y2="109" stroke="#008080"/>
<rect x="202" y="91" width="3" height="11" fill="#008080"/>
<line x1="207.5" y1="68" x2="207.5" y2="207" stroke="#dc143c"/>
<rect x="206" y="90" width="3" height="92" fill="#dc143c"/>
<line x1="211.5" y1="177" x2="211.5" y2="203" stroke="#dc143c"/>
<rect x="210" y="183" width="3" height="11" fill="#dc143c"/>
<line x1="215.5" y1="182" x2="215.5" y2="201" stroke="#008080"/>
<rect x="214" y="189" width="3" height="5" fill="#008080"/>
<line x1="219.5" y1="160" x2="219.5" y2="195" stroke="#008080"/>
<rect x="218" y="164" width="3" height="25" fill="#008080"/>
<line x1="223.5" y1="157" x2="223.5" y2="183" stroke="#008080"/>
<rect x="222" y="162" width="3" height="3" fill="#008080"/>
<line x1="227.5" y1="133" x2="227.5" y2="169" stroke="#008080"/>
<rect x="226" y="150" width="3" height="12" fill="#008080"/>
<line x1="231.5" y1="141" x2="231.5" y2="154" stroke="#008080"/>
<rect x="230" y="142" width="3" height="8" fill="#008080"/>
<line x1="235.5" y1="137" x2="235.5" y2="147" stroke="#008080"/>
<rect x="234" y="141" width="3" height="2" fill="#008080"/>
<line x1="239.5" y1="124" x2="239.5" y2="143" stroke="#008080"/>
<rect x="238" y="128" width="3" height="14" fill="#008080"/>
<line x1="243.5" y1="93" x2="243.5" y2="130" stroke="#008080"/>
<rect x="242" y="103" width="3" height="26" fill="#008080"/>
<line x1="247.5" y1="91" x2="247.5" y2="130" stroke="#dc143c"/>
<rect x="246" y="103" width="3" height="16" fill="#dc143c"/>
<line x1="251.5" y1="109" x2="251.5" y2="146" stroke="#dc143c"/>
<rect x="250" y="118" width="3" height="22" fill="#dc143c"/>
<line x1="255.5" y1="131" x2="255.5" y2="144" stroke="#008080"/>
<rect x="254" y="137" width="3" height="3" fill="#008080"/>
<line x1="259.5" y1="146" x2="259.5" y2="179" stroke="#008080"/>
<rect x="258" y="152" width="3" height="25" fill="#008080"/>
<line x1="263.5" y1="145" x2="263.5" y2="160" stroke="#008080"/>
<rect x="262" y="147" width="3" height="6" fill="#008080"/>
<line x1="267.5" y1="144" x2="267.5" y2="177" stroke="#dc143c"/>
<rect x="266" y="146" width="3" height="25" fill="#dc143c"/>
<line x1="271.5" y1="169" x2="271.5" y2="204" stroke="#dc143c"/>
<rect x="270" y="169" width="3" height="28" fill="#dc143c"/>
<line x1="275.5" y1="183" x2="275.5" y2="230" stroke="#dc143c"/>
<rect x="274" y="196" width="3" height="24" fill="#dc143c"/>
<line x1="279.5" y1="210" x2="279.5" y2="226" stroke="#008080"/>
<rect x="278" y="217" width="3" height="3" fill="#008080"/>
<line x1="283.5" y1="207" x2="283.5" y2="221" stroke="#008080"/>
<rect x="282" y="211" width="3" height="8" fill="#008080"/>
<line x1="287.5" y1="205" x2="287.5" y2="214" stroke="#dc143c"/>
<rect x="286" y="211" width="3" height="3" fill="#dc143c"/>
<line x1="291.5" y1="207" x2="291.5" y2="249" stroke="#dc143c"/>
<rect x="290" y="212" width="3" height="30" fill="#dc143c"/>
<line x1="295.5" y1="231" x2="295.5" y2="271" stroke="#dc143c"/>
<rect x="294" y="241" width="3" height="22" fill="#dc143c"/>
<line x1="299.5" y1="258" x2="299.5" y2="289" stroke="#dc143c"/>
<rect x="298" y="261" width="3" height="9" fill="#dc143c"/>
<line x1="303.5" y1="246" x2="303.5" y2="270" stroke="#008080"/>
<rect x="302" y="260" width="3" height="10" fill="#008080"/>
<line x1="307.5" y1="259" x2="307.5" y2="274" stroke="#dc143c"/>
<rect x="306" y="260" width="3" height="5" fill="#dc143c"/>
<line x1="311.5" y1="259" x2="311.5" y2="273" stroke="#dc143c"/>
<rect x="310" y="264" width="3" height="8" fill="#dc143c"/>
<line x1="315.5" y1="267" x2="315.5" y2="310" stroke="#dc143c"/>
<rect x="314" y="270" width="3" height="37" fill="#dc143c"/>
<line x1="319.5" y1="290" x2="319.5" y2="321" stroke="#dc143c"/>
<rect x="318" y="306" width="3" height="13" fill="#dc143c"/>
<line x1="323.5" y1="274" x2="323.5" y2="322" stroke="#008080"/>
<rect x="322" y="293" width="3" height="26" fill="#008080"/>
<line x1="327.5" y1="282" x2="327.5" y2="300" stroke="#dc143c"/>
<rect x="326" y="293" width="3" height="7" fill="#dc143c"/>
<line x1="331.5" y1="290" x2="331.5" y2="303" stroke="#008080"/>
<rect x="330" y="295" width="3" height="5" fill="#008080"/>
<line x1="335.5" y1="294" x2="335.5" y2="314" stroke="#dc143c"/>
<rect x="334" y="295" width="3" height="15" fill="#dc143c"/>
<line x1="339.5" y1="277" x2="339.5" y2="318" stroke="#008080"/>
<rect x="338" y="280" width="3" height="30" fill="#008080"/>
<line x1="343.5" y1="267" x2="343.5" y2="288" stroke="#008080"/>
<rect x="342" y="279" width="3" height="4" fill="#008080"/>
<line x1="347.5" y1="251" x2="347.5" y2="283" stroke="#008080"/>
<rect x="346" y="267" width="3" height="15" fill="#008080"/>
<line x1="351.5" y1="260" x2="351.5" y2="273" stroke="#008080"/>
<rect x="350" y="266" width="3" height="2" fill="#008080"/>
<line x1="355.5" y1="263" x2="355.5" y2="274" stroke="#008080"/>
<rect x="354" y="265" width="3" height="2" fill="#008080"/>
<line x1="359.5" y1="262" x2="359.5" y2="275" stroke="#dc143c"/>
<rect x="358" y="266" width="3" height="6" fill="#dc143c"/>
<line x1="363.5" y1="249" x2="363.5" y2="277" stroke="#008080"/>
<rect x="362" y="255" width="3" height="17" fill="#008080"/>
<line x1="367.5" y1="229" x2="367.5" y2="264" stroke="#008080"/>
<rect x="366" y="230" width="3" height="26" fill="#008080"/>
<line x1="371.5" y1="229" x2="371.5" y2="260" stroke="#dc143c"/>
<rect x="370" y="230" width="3" height="24" fill="#dc143c"/>
<line x1="375.5" y1="235" x2="375.5" y2="255" stroke="#008080"/>
<rect x="374" y="244" width="3" height="9" fill="#008080"/>
<line x1="379.5" y1="243" x2="379.5" y2="265" stroke="#dc143c"/>
<rect x="378" y="263" width="3" height="2" fill="#dc143c"/>
<line x1="383.5" y1="261" x2="383.5" y2="279" stroke="#dc143c"/>
<rect x="382" y="263" width="3" height="11" fill="#dc143c"/>
<line x1="387.5" y1="271" x2="387.5" y2="308" stroke="#dc143c"/>
<rect x="386" y="273" width="3" height="26" fill="#dc143c"/>
<line x1="391.5" y1="284" x2="391.5" y2="311" stroke="#008080"/>
<rect x="390" y="288" width="3" height="11" fill="#008080"/>
<line x1="395.5" y1="286" x2="395.5" y2="311" stroke="#dc143c"/>
<rect x="394" y="288" width="3" height="13" fill="#dc143c"/>
<line x1="399.5" y1="295" x2="399.5" y2="310" stroke="#dc143c"/>
<rect x="398" y="300" width="3" height="10" fill="#dc143c"/>
<line x1="403.5" y1="302" x2="403.5" y2="320" stroke="#dc143c"/>
<rect x="402" y="309" width="3" height="10" fill="#dc143c"/>
<line x1="407.5" y1="316" x2="407.5" y2="335" stroke="#dc143c"/>
<rect x="406" y="318" width="3" height="12" fill="#dc143c"/>
<line x1="411.5" y1="296" x2="411.5" y2="339" stroke="#008080"/>
<rect x="410" y="308" width="3" height="22" fill="#008080"/>
<line x1="415.5" y1="285" x2="415.5" y2="310" stroke="#008080"/>
<rect x="414" y="295" width="3" height="14" fill="#008080"/>
<line x1="419.5" y1="276" x2="419.5" y2="298" stroke="#008080"/>
<rect x="418" y="292" width="3" height="4" fill="#008080"/>
<line x1="423.5" y1="288" x2="423.5" y2="304" stroke="#dc143c"/>
<rect x="422" y="292" width="3" height="9" fill="#dc143c"/>
<line x1="427.5" y1="271" x2="427.5" y2="307" stroke="#008080"/>
<rect x="426" y="275" width="3" height="26" fill="#008080"/>
<line x1="431.5" y1="271" x2="431.5" y2="285" stroke="#dc143c"/>
<rect x="430" y="275" width="3" height="7" fill="#dc143c"/>
<line x1="435.5" y1="273" x2="435.5" y2="298" stroke="#dc143c"/>
<rect x="434" y="281" width="3" height="9" fill="#dc143c"/>
<line x1="439.5" y1="264" x2="439.5" y2="293" stroke="#008080"/>
<rect x="438" y="277" width="3" height="13" fill="#008080"/>
<line x1="443.5" y1="276" x2="443.5" y2="298" stroke="#dc143c"/>
<rect x="442" y="277" width="3" height="8" fill="#dc143c"/>
<line x1="447.5" y1="282" x2="447.5" y2="292" stroke="#dc143c"/>
<rect x="446" y="283" width="3" height="5" fill="#dc143c"/>
<line x1="451.5" y1="284" x2="451.5" y2="294" stroke="#dc143c"/>
<rect x="450" y="287" width="3" height="5" fill="#dc143c"/>
<line x1="455.5" y1="286" x2="455.5" y2="294" stroke="#008080"/>
<rect x="454" y="287" width="3" height="6" fill="#008080"/>
<line x1="459.5" y1="271" x2="459.5" y2="297" stroke="#008080"/>
<rect x="458" y="274" width="3" height="14" fill="#008080"/>
<line x1="463.5" y1="272" x2="463.5" y2="315" stroke="#dc143c"/>
<rect x="462" y="274" width="3" height="37" fill="#dc143c"/>
<line x1="467.5" y1="306" x2="467.5" y2="334" stroke="#dc143c"/>
<rect x="466" y="309" width="3" height="20" fill="#dc143c"/>
<line x1="471.5" y1="325" x2="471.5" y2="336" stroke="#008080"/>
<rect x="470" y="325" width="3" height="4" fill="#008080"/>
<line x1="475.5" y1="323" x2="475.5" y2="336" stroke="#008080"/>
<rect x="474" y="324" width="3" height="2" fill="#008080"/>
<line x1="479.5" y1="323" x2="479.5" y2="346" stroke="#dc143c"/>
<rect x="478" y="324" width="3" height="13" fill="#dc143c"/>
<line x1="483.5" y1="330" x2="483.5" y2="346" stroke="#dc143c"/>
<rect x="482" y="334" width="3" height="5" fill="#dc143c"/>
<line x1="487.5" y1="324" x2="487.5" y2="360" stroke="#dc143c"/>
<rect x="486" y="336" width="3" height="8" fill="#dc143c"/>
<line x1="491.5" y1="303" x2="491.5" y2="348" stroke="#008080"/>
<rect x="490" y="314" width="3" height="29" fill="#008080"/>
<line x1="495.5" y1="304" x2="495.5" y2="316" stroke="#008080"/>
<rect x="494" y="309" width="3" height="7" fill="#008080"/>
<line x1="499.5" y1="299" x2="499.5" y2="316" stroke="#008080"/>
<rect x="498" y="305" width="3" height="8" fill="#008080"/>
<line x1="503.5" y1="296" x2="503.5" y2="310" stroke="#dc143c"/>
<rect x="502" y="305" width="3" height="2" fill="#dc143c"/>
<line x1="507.5" y1="301" x2="507.5" y2="320" stroke="#008080"/>
<rect x="506" y="306" width="3" height="1" fill="#008080"/>
<line x1="511.5" y1="296" x2="511.5" y2="309" stroke="#008080"/>
<rect x="510" y="303" width="3" height="4" fill="#008080"/>
<line x1="515.5" y1="290" x2="515.5" y2="315" stroke="#008080"/>
<rect x="514" y="294" width="3" height="10" fill="#008080"/>
<line x1="519.5" y1="290" x2="519.5" y2="304" stroke="#dc143c"/>
<rect x="518" y="294" width="3" height="10" fill="#dc143c"/>
<line x1="523.5" y1="293" x2="523.5" y2="304" stroke="#008080"/>
<rect x="522" y="294" width="3" height="10" fill="#008080"/>
<line x1="527.5" y1="269" x2="527.5" y2="297" stroke="#008080"/>
<rect x="526" y="279" width="3" height="18" fill="#008080"/>
<line x1="531.5" y1="265" x2="531.5" y2="286" stroke="#008080"/>
<rect x="530" y="273" width="3" height="6" fill="#008080"/>
<line x1="535.5" y1="249" x2="535.5" y2="277" stroke="#008080"/>
<rect x="534" y="264" width="3" height="9" fill="#008080"/>
<line x1="539.5" y1="240" x2="539.5" y2="269" stroke="#008080"/>
<rect x="538" y="254" width="3" height="12" fill="#008080"/>
<line x1="543.5" y1="234" x2="543.5" y2="259" stroke="#008080"/>
<rect x="542" y="250" width="3" height="5" fill="#008080"/>
<line x1="547.5" y1="232" x2="547.5" y2="250" stroke="#008080"/>
<rect x="546" y="239" width="3" height="11" fill="#008080"/>
<line x1="551.5" y1="235" x2="551.5" y2="259" stroke="#dc143c"/>
<rect x="550" y="239" width="3" height="5" fill="#dc143c"/>
<line x1="555.5" y1="219" x2="555.5" y2="246" stroke="#008080"/>
<rect x="554" y="233" width="3" height="11" fill="#008080"/>
<line x1="559.5" y1="217" x2="559.5" y2="255" stroke="#008080"/>
<rect x="558" y="219" width="3" height="15" fill="#008080"/>
<line x1="563.5" y1="208" x2="563.5" y2="226" stroke="#008080"/>
<rect x="562" y="218" width="3" height="2" fill="#008080"/>
<line x1="567.5" y1="199" x2="567.5" y2="224" stroke="#008080"/>
<rect x="566" y="209" width="3" height="10" fill="#008080"/>
<line x1="571.5" y1="197" x2="571.5" y2="210" stroke="#008080"/>
<rect x="570" y="203" width="3" height="6" fill="#008080"/>
<line x1="575.5" y1="192" x2="575.5" y2="205" stroke="#008080"/>
<rect x="574" y="193" width="3" height="11" fill="#008080"/>
<line x1="579.5" y1="191" x2="579.5" y2="204" stroke="#dc143c"/>
<rect x="578" y="194" width="3" height="8" fill="#dc143c"/>
<line x1="3" y1="201.5" x2="728" y2="201.5" stroke="#708090"/>
<line x1="3" y1="394.5" x2="728" y2="394.5" stroke="#808080" stroke-dasharray="3 3" stroke-dashoffset="5"/>
<rect x="3" y="374" width="2" height="20" fill="#008080"/>
<rect x="6" y="374" width="3" height="20" fill="#008080"/>
<rect x="10" y="375" width="3" height="19" fill="#008080"/>
<rect x="14" y="376" width="3" height="18" fill="#008080"/>
<rect x="18" y="378" width="3" height="16" fill="#008080"/>
<rect x="22" y="380" width="3" height="14" fill="#008080"/>
<rect x="26" y="381" width="3" height="13" fill="#008080"/>
<rect x="30" y="384" width="3" height="10" fill="#008080"/>
<rect x="34" y="387" width="3" height="7" fill="#008080"/>
<rect x="38" y="390" width="3" height="4" fill="#008080"/>
<rect x="42" y="392" width="3" height="2" fill="#008080"/>
<rect x="46" y="393" width="3" height="1" fill="#008080"/>
<rect x="50" y="394" width="3" height="2" fill="#008080"/>
<rect x="54" y="394" width="3" height="3" fill="#008080"/>
<rect x="58" y="394" width="3" height="3" fill="#008080"/>
<rect x="62" y="394" width="3" height="2" fill="#008080"/>
<rect x="66" y="394" width="3" height="1" fill="#008080"/>
<rect x="70" y="393" width="3" height="1" fill="#008080"/>
<rect x="74" y="393" width="3" height="1" fill="#008080"/>
<rect x="78" y="393" width="3" height="1" fill="#008080"/>
<rect x="82" y="394" width="3" height="4" fill="#008080"/>
<rect x="86" y="394" width="3" height="8" fill="#008080"/>
<rect x="90" y="394" width="3" height="11" fill="#008080"/>
<rect x="94" y="394" width="3" height="12" fill="#008080"/>
<rect x="98" y="394" width="3" height="12" fill="#008080"/>
<rect x="102" y="394" width="3" height="12" fill="#008080"/>
<rect x="106" y="394" width="3" height="12" fill="#008080"/>
<rect x="110" y="394" width="3" height="10" fill="#008080"/>
<rect x="114" y="394" width="3" height="9" fill="#008080"/>
<rect x="118" y="394" width="3" height="8" fill="#008080"/>
<rect x="122" y="394" width="3" height="6" fill="#008080"/>
<rect x="126" y="394" width="3" height="2" fill="#008080"/>
<rect x="130" y="394" width="3" height="1" fill="#008080"/>
<rect x="134" y="394" width="3" height="1" fill="#008080"/>
<rect x="138" y="394" width="3" height="1" fill="#008080"/>
<rect x="142" y="394" width="3" height="1" fill="#008080"/>
<rect x="146" y="394" width="3" height="1" fill="#008080"/>
<rect x="150" y="393" width="3" height="1" fill="#008080"/>
<rect x="154" y="394" width="3" height="1" fill="#008080"/>
<rect x="158" y="393" width="3" height="1" fill="#008080"/>
<rect x="162" y="392" width="3" height="2" fill="#008080"/>
<rect x="166" y="391" width="3" height="3" fill="#008080"/>
<rect x="170" y="389" width="3" height="5" fill="#008080"/>
<rect x="174" y="389" width="3" height="5" fill="#008080"/>
<rect x="178" y="389" width="3" height="5" fill="#008080"/>
<rect x="182" y="388" width="3" height="6" fill="#008080"/>
<rect x="186" y="388" width="3" height="6" fill="#008080"/>
<rect x="190" y="387" width="3" height="7" fill="#008080"/>
<rect x="194" y="386" width="3" height="8" fill="#008080"/>
<rect x="198" y="387" width="3" height="7" fill="#008080"/>
<rect x="202" y="387" width="3" height="7" fill="#008080"/>
<rect x="206" y="394" width="3" height="1" fill="#008080"/>
<rect x="210" y="394" width="3" height="6" fill="#008080"/>
<rect x="214" y="394" width="3" height="9" fill="#008080"/>
<rect x="218" y="394" width="3" height="9" fill="#008080"/>
<rect x="222" y="394" width="3" height="9" fill="#008080"/>
<rect x="226" y="394" width="3" height="7" fill="#008080"/>
<rect x="230" y="394" width="3" height="6" fill="#008080"/>
<rect x="234" y="394" width="3" height="5" fill="#008080"/>
<rect x="238" y="394" width="3" height="3" fill="#008080"/>
<rect x="242" y="393" width="3" height="1" fill="#008080"/>
<rect x="246" y="392" width="3" height="2" fill="#008080"/>
<rect x="250" y="393" width="3" height="1" fill="#008080"/>
<rect x="254" y="394" width="3" height="1" fill="#008080"/>
<rect x="258" y="394" width="3" height="2" fill="#008080"/>
<rect x="262" y="394" width="3" height="3" fill="#008080"/>
<rect x="266" y="394" width="3" height="5" fill="#008080"/>
<rect x="270" y="394" width="3" height="9" fill="#008080"/>
<rect x="274" y="394" width="3" height="12" fill="#008080"/>
<rect x="278" y="394" width="3" height="14" fill="#008080"/>
<rect x="282" y="394" width="3" height="15" fill="#008080"/>
<rect x="286" y="394" width="3" height="16" fill="#008080"/>
<rect x="290" y="394" width="3" height="18" fill="#008080"/>
<rect x="294" y="394" width="3" height="20" fill="#008080"/>
<rect x="298" y="394" width="3" height="21" fill="#008080"/>
<rect x="302" y="394" width="3" height="21" fill="#008080"/>
<rect x="306" y="394" width="3" height="22" fill="#008080"/>
<rect x="310" y="394" width="3" height="22" fill="#008080"/>
<rect x="314" y="394" width="3" height="23" fill="#008080"/>
<rect x="318" y="394" width="3" height="26" fill="#008080"/>
<rect x="322" y="394" width="3" height="25" fill="#008080"/>
<rect x="326" y="394" width="3" height="24" fill="#008080"/>
<rect x="330" y="394" width="3" height="23" fill="#008080"/>
<rect x="334" y="394" width="3" height="22" fill="#008080"/>
<rect x="338" y="394" width="3" height="21" fill="#008080"/>
<rect x="342" y="394" width="3" height="19" fill="#008080"/>
<rect x="346" y="394" width="3" height="17" fill="#008080"/>
<rect x="350" y="394" width="3" height="15" fill="#008080"/>
<rect x="354" y="394" width="3" height="13" fill="#008080"/>
<rect x="358" y="394" width="3" height="12" fill="#008080"/>
<rect x="362" y="394" width="3" height="10" fill="#008080"/>
<rect x="366" y="394" width="3" height="7" fill="#008080"/>
<rect x="370" y="394" width="3" height="6" fill="#008080"/>
<rect x="374" y="394" width="3" height="5" fill="#008080"/>
<rect x="378" y="394" width="3" height="6" fill="#008080"/>
<rect x="382" y="394" width="3" height="7" fill="#008080"/>
<rect x="386" y="394" width="3" height="10" fill="#008080"/>
<rect x="390" y="394" width="3" height="11" fill="#008080"/>
<rect x="394" y="394" width="3" height="12" fill="#008080"/>
<rect x="398" y="394" width="3" height="13" fill="#008080"/>
<rect x="402" y="394" width="3" height="15" fill="#008080"/>
<rect x="406" y="394" width="3" height="16" fill="#008080"/>
<rect x="410" y="394" width="3" height="15" fill="#008080"/>
<rect x="414" y="394" width="3" height="13" fill="#008080"/>
<rect x="418" y="394" width="3" height="12" fill="#008080"/>
<rect x="422" y="394" width="3" height="11" fill="#008080"/>
<rect x="426" y="394" width="3" height="8" fill="#008080"/>
<rect x="430" y="394" width="3" height="7" fill="#008080"/>
<rect x="434" y="394" width="3" height="7" fill="#008080"/>
<rect x="438" y="394" width="3" height="6" fill="#008080"/>
<rect x="442" y="394" width="3" height="5" fill="#008080"/>
<rect x="446" y="394" width="3" height="5" fill="#008080"/>
<rect x="450" y="394" width="3" height="5" fill="#008080"/>
<rect x="454" y="394" width="3" height="5" fill="#008080"/>
<rect x="458" y="394" width="3" height="4" fill="#008080"/>
<rect x="462" y="394" width="3" height="6" fill="#008080"/>
<rect x="466" y="394" width="3" height="8" fill="#008080"/>
<rect x="470" y="394" width="3" height="10" fill="#008080"/>
<rect x="474" y="394" width="3" height="10" fill="#008080"/>
<rect x="478" y="394" width="3" height="12" fill="#008080"/>
<rect x="482" y="394" width="3" height="12" fill="#008080"/>
<rect x="486" y="394" width="3" height="13" fill="#008080"/>
<rect x="490" y="394" width="3" height="11" fill="#008080"/>
<rect x="494" y="394" width="3" height="9" fill="#008080"/>
<rect x="498" y="394" width="3" height="8" fill="#008080"/>
<rect x="502" y="394" width="3" height="7" fill="#008080"/>
<rect x="506" y="394" width="3" height="6" fill="#008080"/>
<rect x="510" y="394" width="3" height="5" fill="#008080"/>
<rect x="514" y="394" width="3" height="4" fill="#008080"/>
<rect x="518" y="394" width="3" height="3" fill="#008080"/>
<rect x="522" y="394" width="3" height="3" fill="#008080"/>
<rect x="526" y="394" width="3" height="1" fill="#008080"/>
<rect x="530" y="392" width="3" height="2" fill="#008080"/>
<rect x="534" y="391" width="3" height="3" fill="#008080"/>
<rect x="538" y="388" width="3" height="6" fill="#008080"/>
<rect x="542" y="387" width="3" height="7" fill="#008080"/>
<rect x="546" y="386" width="3" height="8" fill="#008080"/>
<rect x="550" y="385" width="3" height="9" fill="#008080"/>
<rect x="554" y="384" width="3" height="10" fill="#008080"/>
<rect x="558" y="383" width="3" height="11" fill="#008080"/>
<rect x="562" y="382" width="3" height="12" fill="#008080"/>
<rect x="566" y="381" width="3" height="13" fill="#008080"/>
<rect x="570" y="380" width="3" height="14" fill="#008080"/>
<rect x="574" y="380" width="3" height="14" fill="#008080"/>
<rect x="578" y="379" width="3" height="15" fill="#008080"/>
<polyline points="3.5,378 7.5,376 11.5,375 15.5,375 19.5,376 23.5,377 27.5,378 31.5,380 35.5,382 39.5,385 43.5,387 47.5,390 51.5,392 55.5,394 59.5,395 63.5,395 67.5,396 71.5,395 75.5,395 79.5,394 83.5,394 87.5,396 91.5,398 95.5,400 99.5,403 103.5,404 107.5,405 111.5,405 115.5,404 119.5,403 123.5,402 127.5,400 131.5,399 135.5,397 139.5,396 143.5,395 147.5,394 151.5,394 155.5,394 159.5,394 163.5,393 167.5,393 171.5,392 175.5,391 179.5,390 183.5,390 187.5,389 191.5,388 195.5,388 199.5,387 203.5,387 207.5,388 211.5,391 215.5,394 219.5,397 223.5,400 227.5,402 231.5,402 235.5,401 239.5,400 243.5,398 247.5,396 251.5,395 255.5,394 259.5,394 263.5,394 267.5,396 271.5,397 275.5,400 279.5,402 283.5,404 287.5,406 291.5,408 295.5,410 299.5,411 303.5,413 307.5,414 311.5,415 315.5,416 319.5,416 323.5,417 327.5,418 331.5,418 335.5,418 339.5,417 343.5,415 347.5,414 351.5,412 355.5,410 359.5,409 363.5,407 367.5,405 371.5,403 375.5,402 379.5,400 383.5,400 387.5,400 391.5,401 395.5,403 399.5,404 403.5,405 407.5,407 411.5,407 415.5,408 419.5,407 423.5,407 427.5,405 431.5,404 435.5,403 439.5,401 443.5,400 447.5,400 451.5,399 455.5,399 459.5,398 463.5,398 467.5,399 471.5,400 475.5,401 479.5,403 483.5,404 487.5,405 491.5,405 495.5,405 499.5,404 503.5,403 507.5,402 511.5,400 515.5,399 519.5,398 523.5,398 527.5,397 531.5,396 535.5,394 539.5,393 543.5,391 547.5,389 551.5,388 555.5,387 559.5,386 563.5,385 567.5,384 571.5,383 575.5,382 579.5,381" fill="none" stroke="#dc143c" stroke-width="2"/>
<line x1="3" y1="439.5" x2="728" y2="439.5" stroke="#006400" stroke-dasharray="3 3" stroke-dashoffset="5"/>
<line x1="3" y1="458.5" x2="728" y2="458.5" stroke="#006400" stroke-dasharray="3 3" stroke-dashoffset="5"/>
<polyline points="3.5,440 7.5,442 11.5,444 15.5,444 19.5,446 23.5,446 27.5,445 31.5,449 35.5,450 39.5,451 43.5,452 47.5,451 51.5,451 55.5,453 59.5,450 63.5,449 67.5,449 71.5,447 75.5,448 79.5,449 83.5,456 87.5,456 91.5,456 95.5,457 99.5,453 103.5,454 107.5,455 111.5,451 115.5,452 119.5,451 123.5,449 127.5,445 131.5,448 135.5,448 139.5,448 143.5,449 147.5,449 151.5,446 155.5,449 159.5,447 163.5,446 167.5,445 171.5,445 175.5,444 179.5,446 183.5,444 187.5,444 191.5,442 195.5,442 199.5,445 203.5,444 207.5,456 211.5,456 215.5,456 219.5,452 223.5,452 227.5,450 231.5,449 235.5,449 239.5,447 243.5,445 247.5,447 251.5,449 255.5,449 259.5,451 263.5,450 267.5,453 271.5,456 275.5,457 279.5,457 283.5,456 287.5,456 291.5,459 295.5,460 299.5,461 303.5,459 307.5,459 311.5,460 315.5,462 319.5,463 323.5,458 327.5,459 331.5,458 335.5,459 339.5,454 343.5,454 347.5,452 351.5,452 355.5,452 359.5,453 363.5,450 367.5,446 371.5,450 375.5,448 379.5,451 383.5,452 387.5,455 391.5,453 395.5,454 399.5,455 403.5,456 407.5,457 411.5,454 415.5,452 419.5,451 423.5,452 427.5,448 431.5,449 435.5,450 439.5,449 443.5,450 447.5,450 451.5,451 455.5,450 459.5,448 463.5,453 467.5,455 471.5,454 475.5,454 479.5,456 483.5,456 487.5,457 491.5,451 495.5,450 499.5,449 503.5,449 507.5,449 511.5,449 515.5,447 519.5,449 523.5,447 527.5,445 531.5,444 535.5,442 539.5,441 543.5,440 547.5,439 551.5,440 555.5,439 559.5,437 563.5,437 567.5,436 571.5,436 575.5,435 579.5,437" fill="none" stroke="#008080" stroke-width="2"/>
<line x1="2.5" y1="2" x2="2.5" y2="474" stroke="#000"/>
<line x1="728.5" y1="2" x2="728.5" y2="474" stroke="#000"/>
<line x1="2" y1="2.5" x2="729" y2="2.5" stroke="#000"/>
<line x1="2" y1="368.5" x2="729" y2="368.5" stroke="#000"/>
<line x1="2" y1="370.5" x2="729" y2="370.5" stroke="#000"/>
<line x1="2" y1="421.5" x2="729" y2="421.5" stroke="#000"/>
<line x1="2" y1="423.5" x2="729" y2="423.5" stroke="#000"/>
<line x1="2" y1="473.5" x2="729" y2="473.5" stroke="#000"/>
<rect x="2" y="369" width="1" height="1" fill="#fff"/>
<rect x="2" y="422" width="1" height="1" fill="#fff"/>
<rect x="728" y="369" width="1" height="1" fill="#fff"/>
<rect x="728" y="422" width="1" height="1" fill="#fff"/>
<line x1="729" y1="35.5" x2="731" y2="35.5" stroke="#000"/>
<line x1="729" y1="68.5" x2="731" y2="68.5" stroke="#000"/>
<line x1="729" y1="101.5" x2="731" y2="101.5" stroke="#000"/>
<line x1="729" y1="134.5" x2="731" y2="134.5" stroke="#000"/>
<line x1="729" y1="167.5" x2="731" y2="167.5" stroke="#000"/>
<line x1="729" y1="233.5" x2="731" y2="233.5" stroke="#000"/>
<line x1="729" y1="266.5" x2="731" y2="266.5" stroke="#000"/>
<line x1="729" y1="299.5" x2="731" y2="299.5" stroke="#000"/>
<line x1="729" y1="332.5" x2="731" y2="332.5" stroke="#000"/>
<line x1="729" y1="365.5" x2="731" y2="365.5" stroke="#000"/>
<line x1="729" y1="372.5" x2="730" y2="372.5" stroke="#000"/>
<line x1="729" y1="394.5" x2="730" y2="394.5" stroke="#000"/>
<line x1="729" y1="420.5" x2="730" y2="420.5" stroke="#000"/>
<line x1="729" y1="425.5" x2="730" y2="425.5" stroke="#000"/>
<line x1="729" y1="472.5" x2="730" y2="472.5" stroke="#000"/>
<line x1="3.5" y1="474" x2="3.5" y2="477" stroke="#000"/>
<line x1="67.5" y1="474" x2="67.5" y2="477" stroke="#000"/>
<line x1="131.5" y1="474" x2="131.5" y2="477" stroke="#000"/>
<line x1="195.5" y1="474" x2="195.5" y2="477" stroke="#000"/>
<line x1="259.5" y1="474" x2="259.5" y2="477" stroke="#000"/>
<line x1="323.5" y1="474" x2="323.5" y2="477" stroke="#000"/>
<line x1="387.5" y1="474" x2="387.5" y2="477" stroke="#000"/>
<line x1="451.5" y1="474" x2="451.5" y2="477" stroke="#000"/>
<line x1="515.5" y1="474" x2="515.5" y2="477" stroke="#000"/>
<line x1="579.5" y1="474" x2="579.5" y2="477" stroke="#000"/>
<rect x="730" y="196" width="41" height="11" fill="#000"/>
<line x1="729" y1="201.5" x2="731" y2="201.5" stroke="#000"/>
<rect x="6" y="9" width="7" height="1" fill="#000"/>
<rect x="7" y="10" width="5" height="1" fill="#000"/>
<rect x="8" y="11" width="3" height="1" fill="#000"/>
<rect x="9" y="12" width="1" height="1" fill="#000"/>
</svg>
<span class="t" style="left:17.93px;top:3px;color:#000;transform:scaleX(0.9387)">EURUSD,H4</span><span class="t" style="left:77.70px;top:3px;color:#000;transform:scaleX(0.9243)">1.18756</span><span class="t" style="left:113.59px;top:3px;color:#000;transform:scaleX(0.9260)">1.18792</span><span class="t" style="left:149.29px;top:3px;color:#000;transform:scaleX(0.9256)">1.18641</span><span class="t" style="left:185.50px;top:3px;color:#000;transform:scaleX(0.9252)">1.18669</span><span class="t" style="left:6.51px;top:372px;color:#000;transform:scaleX(0.9621)">MACD(5,35,5)</span><span class="t" style="left:71.25px;top:372px;color:#000;transform:scaleX(0.8880)">0.006636</span><span class="t" style="left:111.65px;top:372px;color:#000;transform:scaleX(0.9047)">0.006105</span><span class="t" style="left:6.72px;top:425px;color:#000;transform:scaleX(0.9511)">RSI(14)</span><span class="t" style="left:42.33px;top:425px;color:#000;transform:scaleX(0.9080)">74.6172</span><span class="t" style="left:733.80px;top:28px;color:#000;transform:scaleX(0.9144)">1.20740</span><span class="t" style="left:733.80px;top:61px;color:#000;transform:scaleX(0.9144)">1.20330</span><span class="t" style="left:733.80px;top:94px;color:#000;transform:scaleX(0.9144)">1.19920</span><span class="t" style="left:733.80px;top:127px;color:#000;transform:scaleX(0.9144)">1.19500</span><span class="t" style="left:733.80px;top:160px;color:#000;transform:scaleX(0.9144)">1.19090</span><span class="t" style="left:733.80px;top:226px;color:#000;transform:scaleX(0.9144)">1.18260</span><span class="t" style="left:733.80px;top:259px;color:#000;transform:scaleX(0.9144)">1.17850</span><span class="t" style="left:733.80px;top:292px;color:#000;transform:scaleX(0.9144)">1.17440</span><span class="t" style="left:733.80px;top:325px;color:#000;transform:scaleX(0.9144)">1.17020</span><span class="t" style="left:733.80px;top:358px;color:#000;transform:scaleX(0.9144)">1.16610</span><span class="t" style="left:733.80px;top:194px;color:#fff;transform:scaleX(0.9252)">1.18669</span><span class="t" style="left:731.95px;top:370px;color:#000;transform:scaleX(0.9051)">0.010086</span><span class="t" style="left:731.25px;top:387px;color:#000;transform:scaleX(0.9051)">0.00</span><span class="t" style="left:731.95px;top:387px;color:#000;transform:scaleX(0.9051)">0</span><span class="t" style="left:731.60px;top:407px;color:#000;transform:scaleX(0.9051)">-0.011747</span><span class="t" style="left:731.79px;top:423px;color:#000;transform:scaleX(0.9271)">100</span><span class="t" style="left:730.91px;top:432px;color:#000;transform:scaleX(0.9491)">70</span><span class="t" style="left:730.63px;top:451px;color:#000;transform:scaleX(0.9757)">30</span><span class="t" style="left:731.95px;top:459px;color:#000;transform:scaleX(0.8995)">0</span><span class="t" style="left:1.50px;top:475px;color:#000;transform:scaleX(0.9299)">8 Sep 2017</span><span class="t" style="left:65.89px;top:475px;color:#000;transform:scaleX(0.9307)">13 Sep 00:00</span><span class="t" style="left:130.20px;top:475px;color:#000;transform:scaleX(0.9238)">15 Sep 16:00</span><span class="t" style="left:194.13px;top:475px;color:#000;transform:scaleX(0.9266)">20 Sep 08:00</span><span class="t" style="left:257.94px;top:475px;color:#000;transform:scaleX(0.9214)">25 Sep 00:00</span><span class="t" style="left:322.04px;top:475px;color:#000;transform:scaleX(0.9214)">27 Sep 16:00</span><span class="t" style="left:386.12px;top:475px;color:#000;transform:scaleX(0.9487)">2 Oct 08:00</span><span class="t" style="left:450.32px;top:475px;color:#000;transform:scaleX(0.9468)">5 Oct 00:00</span><span class="t" style="left:513.96px;top:475px;color:#000;transform:scaleX(0.9481)">9 Oct 16:00</span><span class="t" style="left:577.67px;top:475px;color:#000;transform:scaleX(0.9624)">12 Oct 08:00</span>
</div>
</body></html>
